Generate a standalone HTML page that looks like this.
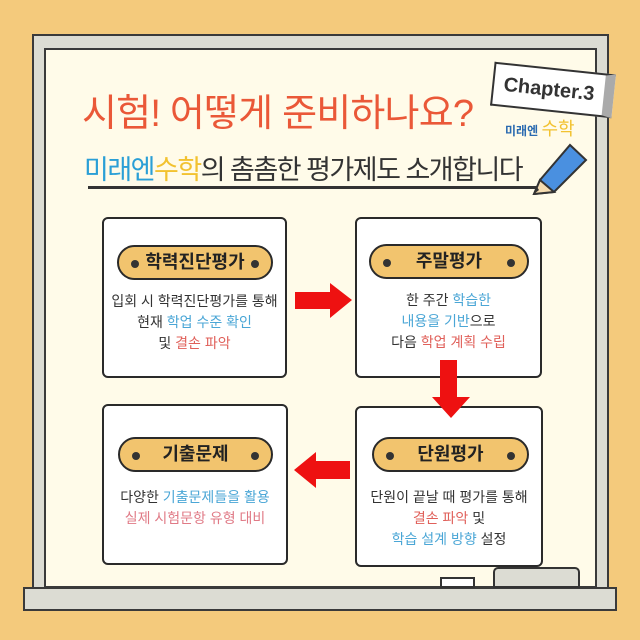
<!DOCTYPE html>
<html><head><meta charset="utf-8"><style>
*{margin:0;padding:0;box-sizing:border-box}
body{width:640px;height:640px;background:#f4ca7c;position:relative;overflow:hidden;font-family:"Liberation Sans","Noto Sans CJK KR",sans-serif;color:#333}
.abs{position:absolute}
.frame{left:32px;top:34px;width:577px;height:560px;background:#dcdcd3;border:2px solid #3a3a3a}
.inner{left:44px;top:48px;width:553px;height:540px;background:#fffbe9;border:2px solid #3a3a3a}
.tray{left:23px;top:587px;width:594px;height:24px;background:#dcdcd3;border:2px solid #3a3a3a}
.box{background:#fff;border:2px solid #2a2a2a;border-radius:6px}
.pill{background:#f2c46e;border:2px solid #2a2a2a;border-radius:20px;height:35px;font-weight:bold;font-size:18px;color:#222;text-align:center;line-height:31px}
.pill:before,.pill:after{content:"";position:absolute;top:13px;width:8px;height:8px;border-radius:50%;background:#333}
.pill:before{left:12px}.pill:after{right:12px}
.txt{text-align:center;font-size:14px;line-height:21px;color:#333;width:100%}
.b{color:#4aa6d6}.r{color:#e0605a}.p{color:#e07a86}
</style></head><body>
<div class="abs frame"></div>
<div class="abs inner"></div>
<div class="abs" style="left:82px;top:82px;font-size:38px;color:#ea5838;letter-spacing:-0.8px">시험! 어떻게 준비하나요?</div>
<div class="abs" style="left:84px;top:148px;font-size:27px;color:#333;letter-spacing:-1.5px"><span style="color:#2a9fd6">미래엔</span><span style="color:#f2c230">수학</span>의 촘촘한 평가제도 소개합니다</div>
<div class="abs" style="left:88px;top:186px;width:452px;height:3px;background:#333"></div>
<svg class="abs" style="left:530px;top:140px" width="64" height="55"><polygon points="10,40 40,5 56,20 24,52 4,54" fill="#4a90e0" stroke="#333" stroke-width="2"/><polygon points="10,40 24,52 4,54" fill="#f5dcb0" stroke="#333" stroke-width="2"/><polygon points="4,54 9,50 7,47" fill="#333"/></svg>
<div class="abs" style="left:492px;top:68px;width:122px;height:44px;background:#fff;border:2px solid #333;border-right:10px solid #aaa;transform:rotate(6deg);font-size:20px;font-weight:bold;text-align:center;line-height:40px;color:#333">Chapter.3</div>
<div class="abs" style="left:505px;top:115px;font-size:12px;font-weight:bold;color:#2a6ab0">미래엔 <span style="color:#f2c230;font-size:18px;font-weight:normal">수학</span></div>

<div class="abs box" style="left:102px;top:217px;width:185px;height:161px"></div>
<div class="abs pill" style="left:117px;top:245px;width:156px">학력진단평가</div>
<div class="abs txt" style="left:102px;top:291px;width:185px">입회 시 학력진단평가를 통해<br>현재 <span class="b">학업 수준 확인</span><br>및 <span class="r">결손 파악</span></div>

<div class="abs box" style="left:355px;top:217px;width:187px;height:161px"></div>
<div class="abs pill" style="left:369px;top:244px;width:160px">주말평가</div>
<div class="abs txt" style="left:355px;top:290px;width:187px">한 주간 <span class="b">학습한</span><br><span class="b">내용을 기반</span>으로<br>다음 <span class="r">학업 계획 수립</span></div>

<div class="abs box" style="left:102px;top:404px;width:186px;height:161px"></div>
<div class="abs pill" style="left:118px;top:437px;width:155px">기출문제</div>
<div class="abs txt" style="left:102px;top:487px;width:186px"><span>다양한 </span><span class="b">기출문제들을 활용</span><br><span class="p">실제 시험문항 유형 대비</span></div>

<div class="abs box" style="left:355px;top:406px;width:188px;height:161px"></div>
<div class="abs pill" style="left:372px;top:437px;width:157px">단원평가</div>
<div class="abs txt" style="left:355px;top:487px;width:188px">단원이 끝날 때 평가를 통해<br><span class="r">결손 파악</span> 및<br><span class="b">학습 설계 방향</span> 설정</div>

<svg class="abs" style="left:0;top:0" width="640" height="640">
<polygon points="295,292 330,292 330,283 352,300 330,318 330,309 295,309" fill="#ee1111"/>
<polygon points="440,360 457,360 457,397 470,397 451,418 432,397 440,397" fill="#ee1111"/>
<polygon points="350,461 316,461 316,452 294,470 316,488 316,479 350,479" fill="#ee1111"/>
</svg>
<div class="abs tray"></div>
<div class="abs" style="left:440px;top:577px;width:35px;height:11px;background:#fff;border:2px solid #333"></div>
<div class="abs" style="left:493px;top:567px;width:87px;height:21px;background:#dcdcd3;border:2px solid #333;border-radius:5px 5px 0 0"></div>
</body></html>
